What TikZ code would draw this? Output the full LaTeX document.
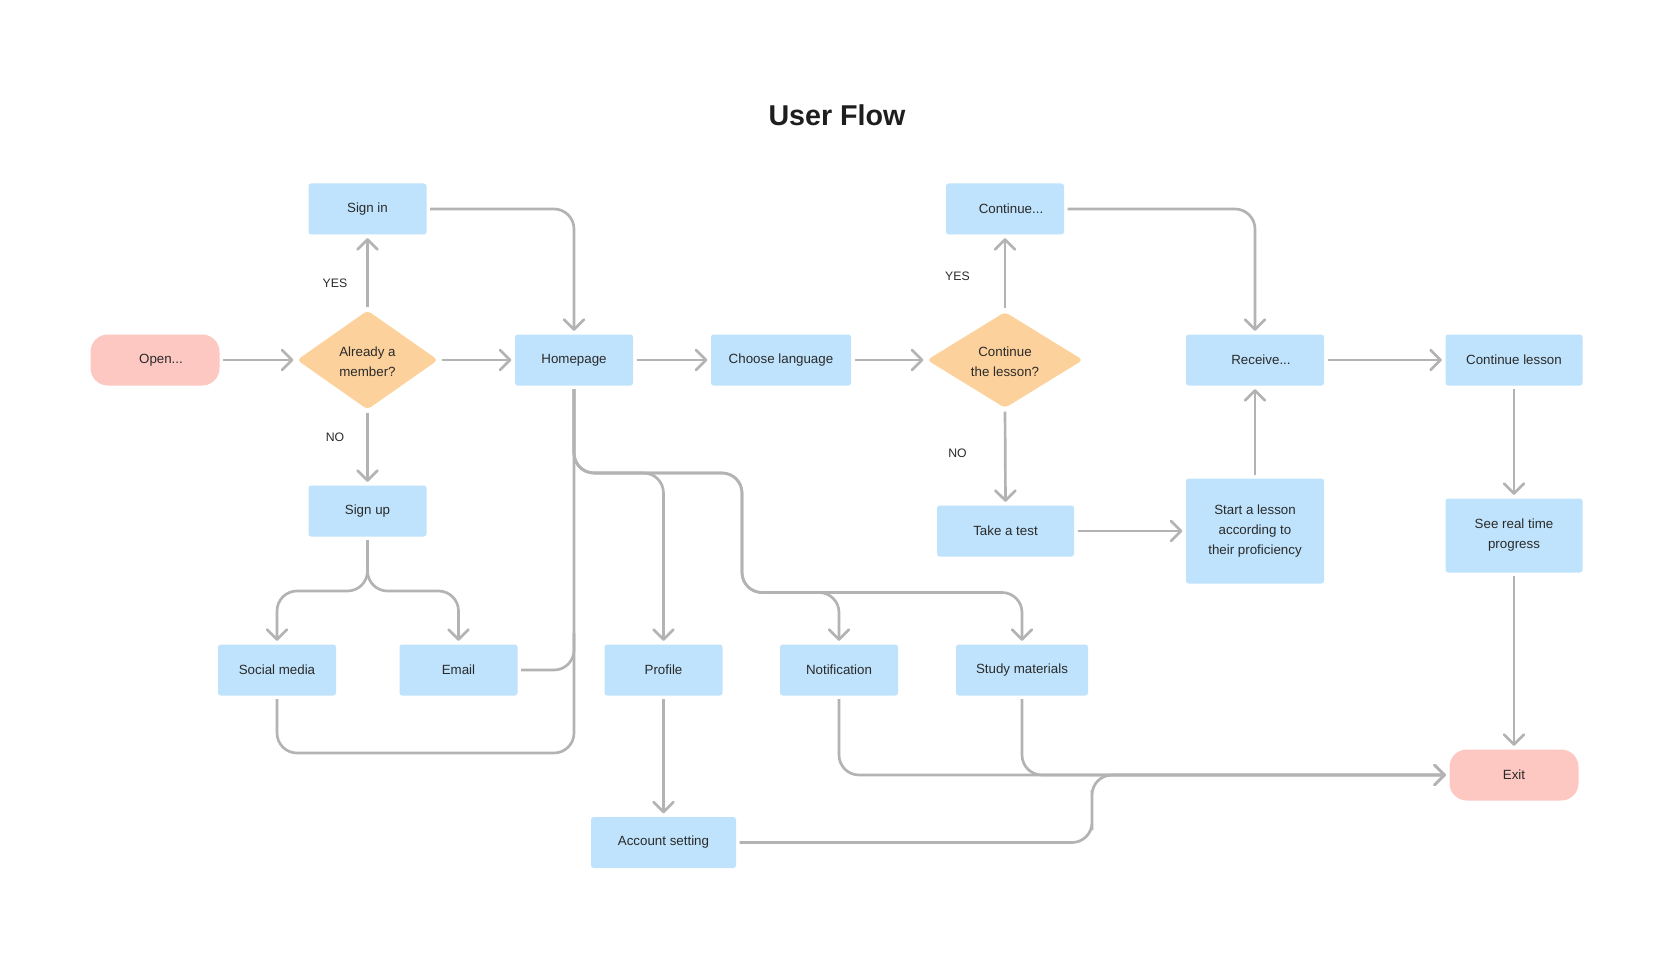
\documentclass[tikz,border=0pt]{standalone}
\usepackage{fontspec}
\setmainfont{Liberation Sans}
\usetikzlibrary{arrows.meta,shapes.geometric}
\definecolor{boxblue}{HTML}{BFE3FC}
\definecolor{decorange}{HTML}{FCD19C}
\definecolor{termpink}{HTML}{FDC7C2}
\definecolor{linegray}{HTML}{B3B3B3}
\definecolor{ink}{HTML}{2A2A2A}
\definecolor{titleink}{HTML}{1E1E1E}

\begin{document}
\begin{tikzpicture}[x=0.75pt,y=-0.75pt,
  every node/.style={text=ink, font=\fontsize{10pt}{15pt}\selectfont, align=center},
  stepbox/.style={fill=boxblue, rounded corners=2pt, minimum width=88.5pt, minimum height=38.25pt, inner sep=0pt},
  term/.style={fill=termpink, rounded corners=13pt, minimum width=96.75pt, minimum height=38.25pt, inner sep=0pt},
  decision/.style={diamond, fill=decorange, rounded corners=3pt, inner sep=0pt},
  conn/.style={draw=linegray, line width=2pt, rounded corners=15pt, shorten <=2.5pt, shorten >=2.5pt},
  arr/.style={conn, -{Straight Barb[length=7.5pt,width=15pt,round]}},
  answer/.style={font=\fontsize{9.2pt}{11pt}\selectfont}
]
\useasboundingbox (0,0) rectangle (1674,966);
\fill[white] (0,0) rectangle (1674,966);

% title
\node[font=\bfseries\fontsize{21.5pt}{24pt}\selectfont, text=titleink] (title) at (837,115) {User Flow};

% start and end
\node[term] (open) at (155,360) {\hspace*{9pt}Open...};
\node[term] (exitn) at (1514,775) {Exit};

% decisions
\node[decision, minimum width=105.75pt, minimum height=74.25pt] (d1) at (367.5,360) {};
\node (d1t) at ([yshift=-1pt]d1) {Already a\\member?};
\node[decision, minimum width=117pt, minimum height=72pt] (d2) at (1005,360) {};
\node (d2t) at ([yshift=-1pt]d2) {Continue\\the lesson?};

% steps
\node[stepbox] (signin) at (367.5,209) {Sign in};
\node[stepbox] (signup) at (367.5,511) {Sign up};
\node[stepbox] (home) at (574,360) {Homepage};
\node[stepbox, minimum width=105pt] (lang) at (781,360) {Choose language};
\node[stepbox] (cont) at (1005,209) {\hspace*{9pt}Continue...};
\node[stepbox, minimum width=102.75pt] (test) at (1005.5,531) {Take a test};
\node[stepbox, minimum width=103.5pt] (recv) at (1255,360) {\hspace*{9pt}Receive...};
\node[stepbox, minimum width=102.75pt] (clesson) at (1514,360) {Continue lesson};
\node[stepbox, minimum width=103.5pt, minimum height=78.75pt] (start) at (1255,531) {Start a lesson\\according to\\their proficiency};
\node[stepbox, minimum width=102.75pt, minimum height=55.5pt] (progress) at (1514,535.5) {See real time\\progress};
\node[stepbox] (social) at (277,670) {Social media};
\node[stepbox] (email) at (458.5,670) {Email};
\node[stepbox] (profile) at (663.5,670) {Profile};
\node[stepbox] (notif) at (839,670) {Notification};
\node[stepbox, minimum width=99pt] (study) at (1022,670) {Study materials};
\node[stepbox, minimum width=108.75pt] (account) at (663.5,842.5) {Account setting};

% answer labels
\node[answer] (yes1) at (335,283) {YES};
\node[answer] (no1) at (335,437) {NO};
\node[answer] (yes2) at (957.5,276.5) {YES};
\node[answer] (no2) at (957.5,453) {NO};

% bend points
\coordinate (split) at (367.5,591);
\coordinate (hb) at (574,473);
\coordinate (hb2) at (742,473);
\coordinate (hb3) at (742,592.5);
\coordinate (hloop) at (574,753);
\coordinate (emj) at (574,630);
\coordinate (acj) at (1092,810);

% main flow
\draw[arr] (open) -- (d1);
\draw[arr] (d1) -- (home);
\draw[arr] (d1.north) -- (signin.south);
\draw[arr] (d1.south) -- (signup.north);
\draw[arr] (signin.east) -| (home.north);
\draw[arr] (home) -- (lang);
\draw[arr] (lang) -- (d2);
\draw[arr] (d2.north) -- (cont.south);
\draw[arr] (d2.south) -- (test.north);
\draw[arr] (cont.east) -| (recv.north);
\draw[arr] (test.east) -- (start.west);
\draw[arr] (start.north) -- (recv.south);
\draw[arr] (recv) -- (clesson);
\draw[arr] (clesson.south) -- (progress.north);
\draw[arr] (progress.south) -- (exitn.north);

% sign up options
\draw[arr] (signup.south) -- (split) -| (social.north);
\draw[arr] (signup.south) -- (split) -| (email.north);
\draw[conn] (social.south) |- (hloop) -- (home.south);
\draw[conn] (email.east) -| (emj);

% homepage sections
\draw[arr] (home.south) -- (hb) -| (profile.north);
\draw[arr] (home.south) -- (hb) -- (hb2) -- (hb3) -| (notif.north);
\draw[arr] (home.south) -- (hb) -- (hb2) -- (hb3) -| (study.north);
\draw[arr] (profile.south) -- (account.north);

% ways out
\draw[arr] (notif.south) |- (exitn.west);
\draw[arr] (study.south) |- (exitn.west);
\draw[arr] (account.east) -| (acj) |- (exitn.west);
\end{tikzpicture}
\end{document}
